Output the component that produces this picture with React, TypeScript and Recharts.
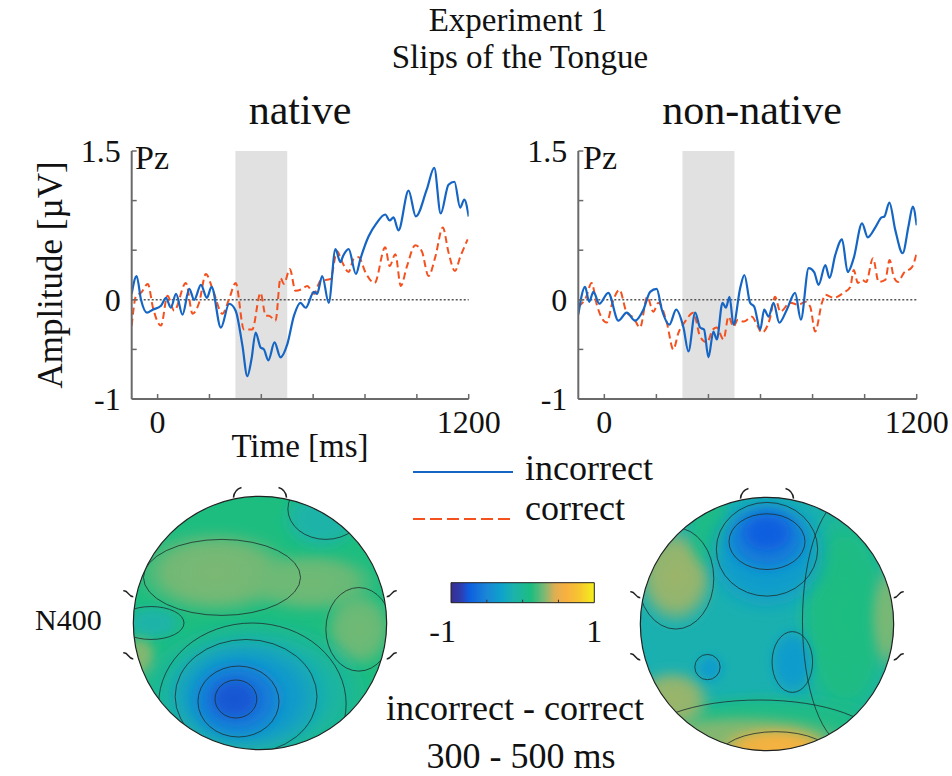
import React from 'react';
import {
  LineChart, Line, XAxis, YAxis, ReferenceLine, ReferenceArea,
  ScatterChart, Scatter, BarChart, Bar, Legend,
} from 'recharts';

const SERIF = '"Liberation Serif", "Times New Roman", serif';
const BLUE = '#1565c4';
const RED = '#f4511e';
const AXIS = '#6a6a6a';

// ---------- axes ----------
const timeTicks = [0, 200, 400, 600, 800, 1000, 1200];
const timeLabels = [0, 1200];
const ampTicks = [-1, -0.5, 0, 0.5, 1, 1.5];
const ampLabels = [-1, 0, 1.5];
const timeDomain = [-100, 1200];
const ampDomain = [-1, 1.5];
const analysisWindow = [300, 500];
const legendOrder = ['incorrect', 'correct'];

// ---------- ERP waveforms at Pz: [time ms, amplitude µV] ----------
type Pt = [number, number];
const nativeIncorrect: Pt[] = [
  [-100, 0.06], [-81, 0.24], [-64, 0.0], [-41, -0.13], [-19, -0.1], [13, -0.06], [32, 0.02],
  [51, -0.08], [71, 0.06], [96, -0.15], [122, 0.11], [141, 0.0], [167, 0.15], [190, 0.02],
  [208, 0.13], [244, -0.28], [276, -0.04], [301, -0.11], [327, -0.46], [346, -0.77], [362, -0.6],
  [378, -0.33], [397, -0.48], [410, -0.5], [427, -0.61], [451, -0.43], [474, -0.58], [500, -0.45],
  [526, -0.16], [551, -0.03], [571, -0.08], [603, 0.08], [615, 0.06], [635, 0.24], [660, -0.03],
  [686, 0.51], [705, 0.38], [715, 0.44], [737, 0.51], [765, 0.26], [782, 0.41], [814, 0.64],
  [844, 0.77], [878, 0.86], [895, 0.8], [910, 0.83], [929, 0.7], [968, 1.1], [996, 0.84],
  [1038, 1.11], [1067, 1.33], [1092, 0.87], [1122, 1.16], [1145, 1.19], [1167, 0.93],
  [1183, 1.01], [1200, 0.84],
];
const nativeCorrect: Pt[] = [
  [-100, -0.26], [-83, 0.04], [-64, 0.07], [-38, 0.16], [-17, -0.09], [13, -0.26], [38, 0.04],
  [64, -0.11], [109, 0.17], [135, -0.14], [160, -0.03], [186, 0.26], [212, 0.11], [250, -0.14],
  [276, 0.01], [301, 0.17], [333, -0.3], [365, -0.3], [397, 0.07], [417, -0.16], [429, -0.16],
  [455, -0.21], [474, 0.22], [487, 0.16], [510, 0.31], [532, 0.09], [558, 0.11], [577, 0.14],
  [603, 0.06], [628, 0.19], [667, 0.21], [692, 0.49], [712, 0.38], [737, 0.28], [756, 0.41],
  [776, 0.43], [801, 0.28], [837, 0.17], [878, 0.53], [895, 0.34], [917, 0.46], [938, 0.14],
  [962, 0.34], [994, 0.55], [1019, 0.49], [1045, 0.24], [1071, 0.43], [1100, 0.73],
  [1122, 0.48], [1147, 0.29], [1167, 0.43], [1196, 0.61],
];
const nonNativeIncorrect: Pt[] = [
  [-100, -0.15], [-74, 0.13], [-58, -0.02], [-42, 0.08], [-19, -0.04], [15, 0.07], [54, -0.21],
  [86, -0.13], [118, -0.21], [150, -0.1], [176, 0.08], [201, 0.11], [221, -0.1], [250, -0.25],
  [276, -0.1], [304, -0.28], [323, -0.52], [349, -0.13], [368, -0.28], [383, -0.3], [400, -0.58],
  [419, -0.32], [432, -0.4], [454, -0.03], [467, -0.08], [481, 0.03], [496, -0.25], [522, 0.12],
  [538, 0.25], [560, -0.03], [576, -0.07], [599, -0.3], [614, -0.1], [631, -0.17], [650, -0.03],
  [672, -0.23], [701, -0.1], [733, 0.07], [755, -0.2], [785, 0.32], [806, 0.28], [823, 0.15],
  [849, 0.35], [865, 0.22], [887, 0.45], [913, 0.61], [935, 0.28], [958, 0.42], [990, 0.77],
  [1012, 0.63], [1041, 0.73], [1065, 0.83], [1076, 0.84], [1095, 0.98], [1118, 0.7],
  [1146, 0.47], [1169, 0.75], [1185, 0.94], [1200, 0.75],
];
const nonNativeCorrect: Pt[] = [
  [-100, -0.07], [-71, 0.02], [-49, 0.17], [-29, -0.05], [9, -0.23], [32, -0.02], [58, 0.1],
  [86, -0.13], [112, -0.18], [137, -0.28], [165, 0.03], [188, -0.12], [208, -0.03], [240, -0.23],
  [265, -0.5], [285, -0.33], [310, -0.22], [342, -0.13], [368, -0.37], [394, -0.43], [417, -0.3],
  [432, -0.28], [458, -0.4], [477, -0.17], [496, -0.27], [513, -0.2], [535, -0.22], [567, -0.17],
  [586, -0.25], [605, -0.33], [635, -0.2], [656, 0.03], [676, -0.12], [714, -0.03], [746, -0.05],
  [772, -0.02], [791, -0.07], [810, -0.32], [836, -0.03], [849, 0.05], [881, 0.02], [919, 0.07],
  [945, 0.13], [958, 0.3], [974, 0.17], [990, 0.2], [1006, 0.18], [1032, 0.42], [1054, 0.18],
  [1079, 0.2], [1096, 0.4], [1112, 0.23], [1128, 0.18], [1150, 0.27], [1182, 0.33], [1200, 0.47],
];

// ---------- colour map (value -1..1) ----------
const cmapStops: [number, string][] = [
  [-1, '#3a2d8c'], [-0.85, '#2c3fb5'], [-0.75, '#0e5ee0'], [-0.5, '#1a87d6'], [-0.3, '#0ea2cb'],
  [-0.12, '#1cb3aa'], [0.12, '#1dbd80'], [0.3, '#7cb874'], [0.45, '#e0ae52'], [0.6, '#f8b040'],
  [0.8, '#f7c72e'], [1, '#f4f01c'],
];
const colorbarRange = [-1, 1];
const colorbarTicks = [-1, -0.5, 0, 0.5, 1];
const colorbarLabels = [-1, 1];

// ---------- topographies (head coords, value -1..1) ----------
type Blob = { x: number; y: number; rx: number; ry: number; v: number };
type Ring = { x: number; y: number; rx: number; ry: number };
const nativeTopoBase = 0.12;
const nativeTopoBlobs: Blob[] = [
  { x: -0.35, y: -0.4, rx: 0.65, ry: 0.35, v: 0.3 },
  { x: 0.4, y: -0.32, rx: 0.55, ry: 0.25, v: 0.28 },
  { x: 0.78, y: 0.05, rx: 0.28, ry: 0.32, v: 0.28 },
  { x: 0.48, y: -0.82, rx: 0.32, ry: 0.26, v: -0.12 },
  { x: -0.85, y: 0.0, rx: 0.25, ry: 0.15, v: -0.12 },
  { x: -0.95, y: 0.27, rx: 0.14, ry: 0.18, v: 0.32 },
  { x: -0.05, y: 0.55, rx: 0.95, ry: 0.6, v: -0.14 },
  { x: -0.12, y: 0.58, rx: 0.65, ry: 0.48, v: -0.38 },
  { x: -0.18, y: 0.6, rx: 0.4, ry: 0.33, v: -0.6 },
  { x: -0.2, y: 0.6, rx: 0.22, ry: 0.18, v: -0.78 },
];
const nativeTopoRings: Ring[] = [
  { x: -0.19, y: 0.6, rx: 0.165, ry: 0.15 },
  { x: -0.17, y: 0.62, rx: 0.32, ry: 0.28 },
  { x: -0.11, y: 0.58, rx: 0.56, ry: 0.45 },
  { x: -0.06, y: 0.64, rx: 0.74, ry: 0.64 },
  { x: -0.3, y: -0.36, rx: 0.62, ry: 0.3 },
  { x: 0.52, y: -0.9, rx: 0.3, ry: 0.24 },
  { x: -0.86, y: 0.0, rx: 0.26, ry: 0.13 },
  { x: 0.78, y: 0.05, rx: 0.26, ry: 0.33 },
];
const nonNativeTopoBase = -0.15;
const nonNativeTopoBlobs: Blob[] = [
  { x: 0.62, y: -0.05, rx: 0.42, ry: 1.0, v: 0.12 },
  { x: 0.95, y: -0.05, rx: 0.14, ry: 0.45, v: 0.3 },
  { x: -0.72, y: -0.38, rx: 0.32, ry: 0.4, v: 0.35 },
  { x: -0.45, y: -0.75, rx: 0.2, ry: 0.35, v: 0.1 },
  { x: 0.0, y: 0.78, rx: 1.0, ry: 0.25, v: 0.1 },
  { x: -0.2, y: 0.92, rx: 0.9, ry: 0.22, v: 0.32 },
  { x: -0.75, y: 0.6, rx: 0.32, ry: 0.25, v: 0.35 },
  { x: 0.07, y: 0.97, rx: 0.45, ry: 0.16, v: 0.62 },
  { x: 0.0, y: -0.55, rx: 0.52, ry: 0.48, v: -0.35 },
  { x: 0.0, y: -0.68, rx: 0.36, ry: 0.3, v: -0.6 },
  { x: 0.0, y: -0.72, rx: 0.22, ry: 0.17, v: -0.75 },
  { x: 0.2, y: 0.3, rx: 0.19, ry: 0.28, v: -0.35 },
  { x: -0.45, y: 0.35, rx: 0.12, ry: 0.12, v: -0.35 },
];
const nonNativeTopoRings: Ring[] = [
  { x: 0.0, y: -0.65, rx: 0.3, ry: 0.22 },
  { x: 0.0, y: -0.59, rx: 0.4, ry: 0.37 },
  { x: 0.2, y: 0.3, rx: 0.16, ry: 0.24 },
  { x: -0.47, y: 0.34, rx: 0.1, ry: 0.1 },
  { x: 0.07, y: 1.05, rx: 0.45, ry: 0.2 },
  { x: -0.06, y: 0.95, rx: 0.95, ry: 0.35 },
  { x: -0.72, y: -0.36, rx: 0.3, ry: 0.4 },
  { x: 0.64, y: -0.02, rx: 0.36, ry: 0.98 },
];
const headMarks = [
  { x: -0.17, y: -1.03, k: 'noseL' }, { x: 0.17, y: -1.03, k: 'noseR' },
  { x: -1.04, y: -0.23, k: 'earL' }, { x: -1.04, y: 0.26, k: 'earL' },
  { x: 1.04, y: -0.23, k: 'earR' }, { x: 1.04, y: 0.26, k: 'earR' },
];

// ---------- helpers ----------
const hexToRgb = (h: string) => [1, 3, 5].map((i) => parseInt(h.slice(i, i + 2), 16));
function cmap(v: number): string {
  const c = Math.max(-1, Math.min(1, v));
  for (let i = 0; i < cmapStops.length - 1; i++) {
    const [a, ca] = cmapStops[i];
    const [b, cb] = cmapStops[i + 1];
    if (c >= a && c <= b) {
      const t = (c - a) / (b - a);
      const A = hexToRgb(ca), B = hexToRgb(cb);
      const m = A.map((x, j) => Math.round(x + (B[j] - x) * t));
      return `rgb(${m[0]},${m[1]},${m[2]})`;
    }
  }
  return cmapStops[cmapStops.length - 1][1];
}
const toRows = (pts: Pt[]) => pts.map(([t, v]) => ({ t, v }));

// ---------- ERP panel ----------
const CH_H = 470;
const PLOT_TOP = 151;
const PLOT_BOTTOM = 399;
const XAX_H = 40;

function ErpPanel(props: {
  left: number; width: number; plotLeft: number; plotRight: number;
  incorrect: Pt[]; correct: Pt[]; legend?: boolean;
}) {
  const { left, width, plotLeft, plotRight, incorrect, correct, legend } = props;
  const yTick = (p: any) => {
    const { y, payload } = p;
    const v = payload.value;
    return (
      <g>
        <line x1={plotLeft} x2={plotLeft + 5} y1={y} y2={y} stroke={AXIS} strokeWidth={1.5} />
        {ampLabels.includes(v) && (
          <text x={plotLeft - 11} y={y} textAnchor="end" dominantBaseline="central"
            fontFamily={SERIF} fontSize={32} fill="#111">{String(v)}</text>
        )}
      </g>
    );
  };
  const xTick = (p: any) => {
    const { x, payload } = p;
    const v = payload.value;
    return (
      <g>
        <line x1={x} x2={x} y1={PLOT_BOTTOM} y2={PLOT_BOTTOM - 5} stroke={AXIS} strokeWidth={1.5} />
        {timeLabels.includes(v) && (
          <text x={x} y={PLOT_BOTTOM + 34} textAnchor="middle" fontFamily={SERIF} fontSize={32} fill="#111">
            {String(v)}
          </text>
        )}
      </g>
    );
  };
  const legendContent = (lp: any) => {
    const items = [...(lp.payload || [])].sort(
      (a: any, b: any) => legendOrder.indexOf(a.value) - legendOrder.indexOf(b.value));
    return (
      <svg width={260} height={100} style={{ display: 'block' }}>
        {items.map((it: any, i: number) => {
          const dashed = it.value === 'correct';
          const ly = i === 0 ? 32 : 79;
          const ty = i === 0 ? 40 : 80;
          return (
            <g key={it.value}>
              <line x1={0} x2={100} y1={ly} y2={ly} stroke={it.color} strokeWidth={2}
                strokeDasharray={dashed ? '12 5' : undefined} />
              <text x={112} y={ty} fontFamily={SERIF} fontSize={36} fill="#111">{it.value}</text>
            </g>
          );
        })}
      </svg>
    );
  };
  return (
    <div style={{ position: 'absolute', left, top: 0 }}>
      <LineChart width={width} height={CH_H}
        margin={{ top: PLOT_TOP, right: width - plotRight, bottom: CH_H - PLOT_BOTTOM - XAX_H, left: 0 }}>
        <XAxis type="number" dataKey="t" domain={timeDomain} ticks={timeTicks} interval={0}
          tick={xTick} tickLine={false} axisLine={{ stroke: AXIS, strokeWidth: 2 }} height={XAX_H}
          allowDataOverflow />
        <YAxis type="number" domain={ampDomain} ticks={ampTicks} interval={0} tick={yTick}
          tickLine={false} axisLine={{ stroke: AXIS, strokeWidth: 2 }} width={plotLeft} allowDataOverflow />
        <ReferenceArea x1={analysisWindow[0]} x2={analysisWindow[1]} fill="#e1e1e1" fillOpacity={1}
          stroke="none" />
        <ReferenceLine y={0} stroke="#555" strokeDasharray="2 2" strokeWidth={1.5} />
        <Line data={toRows(correct)} dataKey="v" name="correct" type="monotone" stroke={RED}
          strokeWidth={2} strokeDasharray="7 4" dot={false} isAnimationActive={false} />
        <Line data={toRows(incorrect)} dataKey="v" name="incorrect" type="monotone" stroke={BLUE}
          strokeWidth={2.2} dot={false} isAnimationActive={false} />
        {legend && (
          <Legend layout="horizontal" verticalAlign="middle" align="center" content={legendContent}
            wrapperStyle={{ left: 413, top: 440, width: 260, height: 100 }} />
        )}
      </LineChart>
    </div>
  );
}

// ---------- topography ----------
const TS = 304;
const TR = TS / 2.4;
const TC = TS / 2;

function Topomap(props: { id: string; left: number; top: number; base: number; blobs: Blob[]; rings: Ring[] }) {
  const { id, left, top, base, blobs, rings } = props;
  const blobRows = blobs.map((b, i) => ({ ...b, gid: `${id}-g${i}` }));
  const clip = `url(#${id}-clip)`;
  const blur = `url(#${id}-blur)`;
  const get = (p: any) => p.payload ?? p;
  return (
    <div style={{ position: 'absolute', left, top }}>
      <ScatterChart width={TS} height={TS} margin={{ top: 0, right: 0, bottom: 0, left: 0 }}>
        <defs>
          <clipPath id={`${id}-clip`}><circle cx={TC} cy={TC} r={TR} /></clipPath>
          <filter id={`${id}-blur`} x="-50%" y="-50%" width="200%" height="200%">
            <feGaussianBlur stdDeviation="5" />
          </filter>
          {blobRows.map((b) => (
            <radialGradient key={b.gid} id={b.gid}>
              <stop offset="0" stopColor={cmap(b.v)} stopOpacity={1} />
              <stop offset="0.6" stopColor={cmap(b.v)} stopOpacity={0.9} />
              <stop offset="1" stopColor={cmap(b.v)} stopOpacity={0} />
            </radialGradient>
          ))}
        </defs>
        <XAxis type="number" dataKey="x" domain={[-1.2, 1.2]} hide />
        <YAxis type="number" dataKey="y" domain={[-1.2, 1.2]} reversed hide />
        <Scatter data={[{ x: 0, y: 0 }]} isAnimationActive={false}
          shape={(p: any) => <circle cx={p.cx} cy={p.cy} r={TR} fill={cmap(base)} />} />
        <Scatter data={blobRows} isAnimationActive={false}
          shape={(p: any) => {
            const d = get(p);
            return (
              <g clipPath={clip}>
                <ellipse cx={p.cx} cy={p.cy} rx={d.rx * TR} ry={d.ry * TR} fill={`url(#${d.gid})`}
                  filter={blur} />
              </g>
            );
          }} />
        <Scatter data={rings} isAnimationActive={false}
          shape={(p: any) => {
            const d = get(p);
            return (
              <g clipPath={clip}>
                <ellipse cx={p.cx} cy={p.cy} rx={d.rx * TR} ry={d.ry * TR} fill="none"
                  stroke="#1e2e30" strokeWidth={1} strokeOpacity={0.8} />
              </g>
            );
          }} />
        <Scatter data={[{ x: 0, y: 0 }]} isAnimationActive={false}
          shape={(p: any) => <circle cx={p.cx} cy={p.cy} r={TR} fill="none" stroke="#222" strokeWidth={1.2} />} />
        <Scatter data={headMarks} isAnimationActive={false}
          shape={(p: any) => {
            const d = get(p);
            const { cx, cy } = p;
            let path = '';
            if (d.k === 'noseL') path = `M${cx - 5},${cy + 5} Q${cx - 4},${cy - 3} ${cx + 3},${cy - 5}`;
            else if (d.k === 'noseR') path = `M${cx + 5},${cy + 5} Q${cx + 4},${cy - 3} ${cx - 3},${cy - 5}`;
            else if (d.k === 'earL') path = `M${cx - 5},${cy - 3} C${cx},${cy - 4} ${cx},${cy + 3} ${cx + 5},${cy + 3}`;
            else path = `M${cx + 5},${cy - 3} C${cx},${cy - 4} ${cx},${cy + 3} ${cx - 5},${cy + 3}`;
            return <path d={path} fill="none" stroke="#222" strokeWidth={1.5} />;
          }} />
      </ScatterChart>
    </div>
  );
}

// ---------- colour bar ----------
const colorbarRows = [{ name: 'scale', range: colorbarRange }];
function ColorBar() {
  const W = 220, H = 100, L = 40, BW = 143.3, T = 22.7, BH = 20, XH = 30;
  const tick = (p: any) => {
    const { x, payload } = p;
    const v = payload.value;
    const bottom = T + BH;
    return (
      <g>
        {!colorbarLabels.includes(v) && (
          <line x1={x} x2={x} y1={bottom} y2={bottom - 3} stroke="#333" strokeWidth={1} />
        )}
        {colorbarLabels.includes(v) && (
          <text x={v < 0 ? x + 5 : x} y={82} textAnchor={v < 0 ? 'end' : 'middle'}
            fontFamily={SERIF} fontSize={32} fill="#111">{String(v)}</text>
        )}
      </g>
    );
  };
  return (
    <div style={{ position: 'absolute', left: 411, top: 560 }}>
      <BarChart width={W} height={H} layout="vertical" data={colorbarRows} barCategoryGap={0}
        margin={{ top: T, right: W - L - BW, bottom: H - T - BH - XH, left: L }}>
        <defs>
          <linearGradient id="cbar" x1="0" y1="0" x2="1" y2="0">
            {cmapStops.map(([v, c]) => (
              <stop key={v} offset={(v + 1) / 2} stopColor={c} />
            ))}
          </linearGradient>
        </defs>
        <XAxis type="number" domain={colorbarRange} ticks={colorbarTicks} interval={0} tick={tick}
          tickLine={false} axisLine={false} height={XH} />
        <YAxis type="category" dataKey="name" hide />
        <Bar dataKey="range" fill="url(#cbar)" stroke="#222" strokeWidth={1} barSize={BH}
          isAnimationActive={false} />
      </BarChart>
    </div>
  );
}

export default function App() {
  const txt = { fontFamily: SERIF, fill: '#111' } as const;
  return (
    <div style={{ position: 'absolute', left: 0, top: 0, width: 952, height: 776, background: '#fff', overflow: 'hidden' }}>
      <svg width={952} height={776} style={{ position: 'absolute', left: 0, top: 0 }}>
        <text x={518} y={31} textAnchor="middle" fontSize={33} {...txt}>Experiment 1</text>
        <text x={520} y={68} textAnchor="middle" fontSize={33} {...txt}>Slips of the Tongue</text>
        <text x={300} y={124} textAnchor="middle" fontSize={42} {...txt}>native</text>
        <text x={752} y={124} textAnchor="middle" fontSize={42} {...txt}>non-native</text>
        <text x={135} y={169} fontSize={34} {...txt}>Pz</text>
        <text x={583} y={169} fontSize={34} {...txt}>Pz</text>
        <text x={300} y={457} textAnchor="middle" fontSize={33} {...txt}>Time [ms]</text>
        <text x={62} y={275} textAnchor="middle" fontSize={35} transform="rotate(-90 62 275)" {...txt}>
          Amplitude [µV]
        </text>
        <text x={35} y={630} fontSize={30} {...txt}>N400</text>
        <text x={515} y={720} textAnchor="middle" fontSize={36} {...txt}>incorrect - correct</text>
        <text x={521} y={768} textAnchor="middle" fontSize={36} {...txt}>300 - 500 ms</text>
      </svg>
      <Topomap id="topoA" left={108} top={470.5} base={nativeTopoBase} blobs={nativeTopoBlobs} rings={nativeTopoRings} />
      <Topomap id="topoB" left={615.3} top={472.3} base={nonNativeTopoBase} blobs={nonNativeTopoBlobs} rings={nonNativeTopoRings} />
      <ColorBar />
      <ErpPanel left={0} width={690} plotLeft={131.7} plotRight={468.7}
        incorrect={nativeIncorrect} correct={nativeCorrect} legend />
      <ErpPanel left={450} width={502} plotLeft={128.3} plotRight={466.7}
        incorrect={nonNativeIncorrect} correct={nonNativeCorrect} />
    </div>
  );
}
